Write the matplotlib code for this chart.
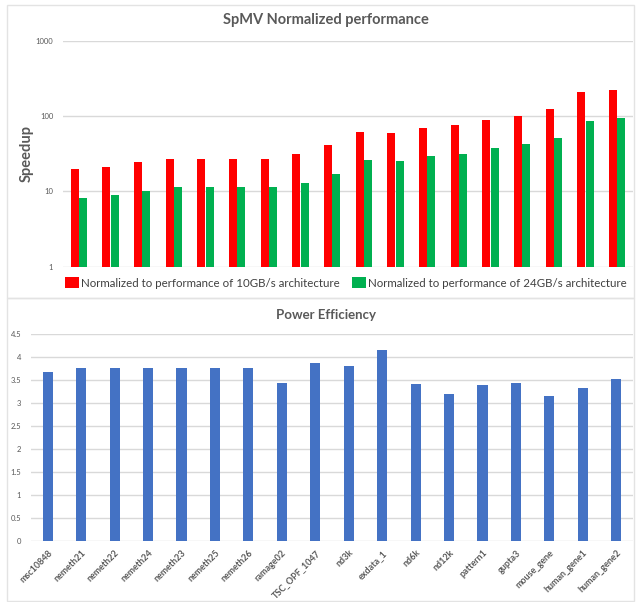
import matplotlib
matplotlib.use("Agg")
import matplotlib.pyplot as plt
import numpy as np
from matplotlib.patches import Rectangle

plt.rcParams['font.family'] = ['Lato', 'DejaVu Sans']

categories = ["msc10848", "nemeth21", "nemeth22", "nemeth24", "nemeth23", "nemeth25",
              "nemeth26", "ramage02", "TSC_OPF_1047", "nd3k", "exdata_1", "nd6k",
              "nd12k", "pattern1", "gupta3", "mouse_gene", "human_gene1", "human_gene2"]
speedup_10gb = [20, 21, 24.5, 27, 27, 27, 27, 31, 41.5, 61, 59, 70, 76, 88, 101, 124, 209, 226]
speedup_24gb = [8.2, 8.9, 10, 11.3, 11.3, 11.3, 11.3, 12.9, 17, 25.9, 25.1, 29.6, 31.1, 37.4, 42.7, 51.4, 85.7, 95.8]
power_eff = [3.69, 3.76, 3.76, 3.76, 3.76, 3.76, 3.76, 3.45, 3.87, 3.81, 4.15, 3.41, 3.21,
             3.39, 3.45, 3.15, 3.34, 3.52]
top_yticks = [1, 10, 100, 1000]
top_ytick_labels = ["1", "10", "100", "1000"]
bot_yticks = [0, 0.5, 1, 1.5, 2, 2.5, 3, 3.5, 4, 4.5]
bot_ytick_labels = ["0", "0.5", "1", "1.5", "2", "2.5", "3", "3.5", "4", "4.5"]
legend_labels = ["Normalized to performance of 10GB/s architecture",
                 "Normalized to performance of 24GB/s architecture"]

W, H = 638, 602
fig = plt.figure(figsize=(W / 100, H / 100), dpi=100)

def fx(px):
    return px / W

def fy(py):
    return 1 - py / H

grey = "#595959"
gridc = "#D9D9D9"

# chart borders
for (x0, y0, x1, y1) in [(7, 5, 634, 298), (7, 298, 634, 601)]:
    fig.add_artist(Rectangle((fx(x0), fy(y1)), fx(x1) - fx(x0), fy(y0) - fy(y1),
                             transform=fig.transFigure, fill=False, edgecolor="#E3E3E3", lw=1))

x = np.arange(len(categories))

# ---- Top chart ----
ax1 = fig.add_axes([fx(63), fy(266.7), fx(633) - fx(63), fy(41) - fy(266.7)])
w = 0.25
ax1.bar(x - 0.135, speedup_10gb, width=w, color="#FF0000", label=legend_labels[0], zorder=3)
ax1.bar(x + 0.135, speedup_24gb, width=w, color="#00B050", label=legend_labels[1], zorder=3)
ax1.set_yscale("log")
ax1.set_ylim(1, 1000)
ax1.set_xlim(-0.5, len(categories) - 0.5)
ax1.set_yticks(top_yticks)
ax1.set_yticklabels(top_ytick_labels)
ax1.minorticks_off()
ax1.set_xticks([])
ax1.tick_params(axis="y", length=0, pad=7, labelsize=5.5, labelcolor=grey)
ax1.grid(axis="y", color=gridc, lw=1, zorder=0)
for s in ax1.spines.values():
    s.set_visible(False)
fig.text(fx(326), fy(20), "SpMV Normalized performance", ha="center", va="center",
         fontsize=10.5, fontweight="bold", color=grey)
fig.text(fx(27), fy(154), "Speedup", ha="center", va="center", rotation=90,
         fontsize=10.5, fontweight="bold", color=grey)
h, l = ax1.get_legend_handles_labels()
fig.legend(h, l, loc="center", bbox_to_anchor=(fx(346), fy(283)), ncol=2, frameon=False,
           fontsize=8.3, handlelength=1.25, handleheight=1.1, handletextpad=0.2,
           columnspacing=1.0, labelcolor="#404040")

# ---- Bottom chart ----
ax2 = fig.add_axes([fx(31), fy(541.3), fx(633) - fx(31), fy(334.3) - fy(541.3)])
ax2.bar(x, power_eff, width=0.3, color="#4472C4", zorder=3)
ax2.set_ylim(0, 4.5)
ax2.set_xlim(-0.5, len(categories) - 0.5)
ax2.set_yticks(bot_yticks)
ax2.set_yticklabels(bot_ytick_labels)
ax2.set_xticks(x)
ax2.set_xticklabels(categories, rotation=45, ha="right", rotation_mode="anchor",
                    fontweight="bold")
ax2.tick_params(axis="y", length=0, pad=7, labelsize=5.5, labelcolor=grey)
ax2.tick_params(axis="x", length=0, pad=5, labelsize=6.5, labelcolor=grey)
ax2.grid(axis="y", color=gridc, lw=1, zorder=0)
for s in ax2.spines.values():
    s.set_visible(False)
fig.text(fx(326), fy(315), "Power Efficiency", ha="center", va="center",
         fontsize=9.5, fontweight="bold", color=grey)

fig.savefig("out.png", dpi=100)
